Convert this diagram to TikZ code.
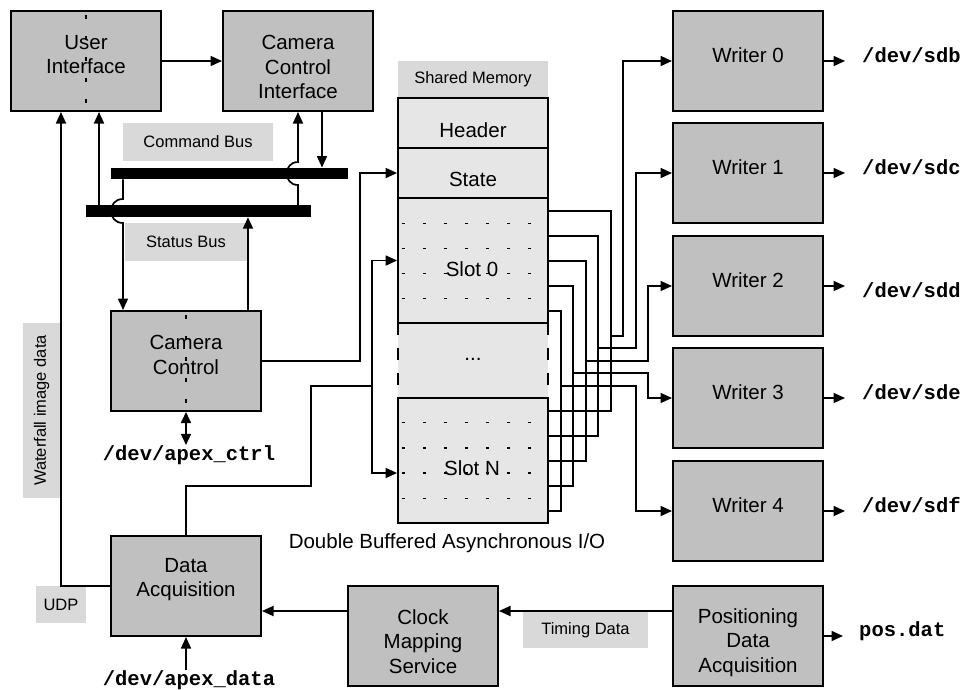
\documentclass[tikz,border=0pt]{standalone}
\usepackage{fontspec}
\setmainfont{Liberation Sans}
\setmonofont{Liberation Mono}
\usetikzlibrary{arrows.meta,calc}
\definecolor{boxgray}{RGB}{192,192,192}
\definecolor{taggray}{RGB}{217,217,217}
\definecolor{memgray}{RGB}{230,230,230}
\newcommand\mainfs{\fontsize{20.5}{24.5}\selectfont}
\newcommand\tagfs{\fontsize{16.5}{19}\selectfont}
\newcommand\monofs{\fontsize{20.5}{24.5}\selectfont\ttfamily\bfseries}
\begin{document}
\begin{tikzpicture}[x=1pt,y=-1pt,
 blk/.style={draw, line width=2pt, fill=boxgray, minimum width=150pt, minimum height=100pt, inner sep=0pt},
 mem/.style={draw, line width=1.8pt, fill=memgray, minimum width=150pt, inner sep=0pt},
 tag/.style={fill=taggray, inner sep=0pt, font=\tagfs},
 txt/.style={inner sep=0pt, align=center, font=\mainfs, anchor=north},
 dev/.style={inner xsep=17pt, inner ysep=0pt, font=\monofs, anchor=base west},
 bus/.style={fill=black, inner sep=0pt},
 wire/.style={line width=1.7pt},
 arr/.style={line width=1.7pt, -{Triangle[length=11.5pt,width=10pt]}},
 dbl/.style={line width=1.7pt, {Triangle[length=11pt,width=10pt]}-{Triangle[length=11pt,width=10pt]}},
 dotrow/.style={line width=1.6pt, dash pattern=on 3.5pt off 17.5pt},
 ]
\useasboundingbox (0,0) rectangle (963,689);

% main blocks
\node[blk] (ui) at (86,61) {};
\node[blk] (cci) at (298,61) {};
\node[blk] (cc) at (186,361) {};
\node[blk] (da) at (186,586) {};
\node[blk] (cms) at (423,636) {};
\node[blk] (pda) at (748,636) {};
\foreach \i/\yy in {0/61,1/173,2/286,3/398,4/511}{
  \node[blk] (w\i) at (748,\yy) {};
  \node[txt] (wt\i) at (748,\yy-14) {Writer \i};
}

% dashed centre marks
\draw[line width=1.6pt, dash pattern=on 4pt off 17pt] (86,15) -- (86,107);
\draw[line width=1.6pt, dash pattern=on 4pt off 17pt] (186,315) -- (186,407);

\node[txt] (uit) at (86,35) {User\\Interface};
\node[txt] (ccit) at (298,35) {Camera\\Control\\Interface};
\node[txt] (cct) at (186,335) {Camera\\Control};
\node[txt] (dat) at (186,558) {Data\\Acquisition};
\node[txt] (cmst) at (423,609) {Clock\\Mapping\\Service};
\node[txt] (pdat) at (748,608) {Positioning\\Data\\Acquisition};

% buses
\node[bus, minimum width=237pt, minimum height=11.5pt] (cmdbus) at (229.5,173.5) {};
\node[bus, minimum width=225pt, minimum height=12pt] (stbus) at (198.5,211) {};

% tags
\node[tag, minimum width=150pt, minimum height=38pt] (cmdlbl) at (198,142) {Command Bus};
\node[tag, minimum width=122pt, minimum height=38pt] (stlbl) at (186,242) {Status Bus};
\node[tag, minimum width=150pt, minimum height=37pt] (shlbl) at (473,79.5) {Shared Memory};
\node[tag, minimum width=125pt, minimum height=36pt] (tdlbl) at (585.5,630) {Timing Data};
\node[tag, minimum width=50pt, minimum height=37pt] (udplbl) at (61,604.5) {UDP};
\node[tag, minimum width=175pt, minimum height=37pt, rotate=90] (wflbl) at (41.5,410.5) {Waterfall image data};

% shared memory
\node[fill=memgray, minimum width=150pt, minimum height=75pt, inner sep=0pt] (mid) at (473,360.5) {};
\draw[line width=1.8pt, dash pattern=on 12.5pt off 12.5pt] (mid.north west) -- (mid.south west);
\draw[line width=1.8pt, dash pattern=on 12.5pt off 12.5pt] (mid.north east) -- (mid.south east);
\node[mem, minimum height=50pt] (hdr) at (473,123) {};
\node[mem, minimum height=50pt] (state) at (473,173) {};
\node[mem, minimum height=125pt] (slot0) at (473,260.5) {};
\node[mem, minimum height=125pt] (slotN) at (473,460.5) {};
\foreach \yy in {223.3,248.3,273.3,298.3,422.3,447.7,472.7,498.3}
  \draw[dotrow] (401.6,\yy) -- (532,\yy);
\node[txt] (hdrt) at (473,122) {Header};
\node[txt] (statet) at (473,172) {State};
\node[txt] (s0t) at (472,261) {Slot 0};
\node[txt] (sNt) at (472,460) {Slot N};
\node[font=\mainfs, inner sep=0pt, anchor=base] (dots) at (473,360) {...};
\node[txt] (dbt) at (447,533) {Double Buffered Asynchronous I/O};

% device texts
\node[dev] (dev0) at (845,62.7) {/dev/sdb};
\node[dev] (dev1) at (845,174) {/dev/sdc};
\node[dev] (dev2) at (845,297.7) {/dev/sdd};
\node[dev] (dev3) at (845,399) {/dev/sde};
\node[dev] (dev4) at (845,512.7) {/dev/sdf};
\node[dev, inner xsep=16pt] (posd) at (843,636.7) {pos.dat};
\node[font=\monofs, inner sep=0pt, anchor=base] (apexctrl) at (189,460) {/dev/apex\_ctrl};
\node[font=\monofs, inner sep=0pt, anchor=base] (apexdata) at (189,685) {/dev/apex\_data};

% connectors top-left
\draw[arr] (ui.east) -- (cci.west);
\draw[arr] (322,0 |- cci.south) -- (322,0 |- cmdbus.north);
\draw[arr] (298,0 |- stbus.north) -- (298,185) .. controls (283,185) and (283,162) .. (298,162) -- (298,0 |- cci.south);
\draw[arr] (123,0 |- cmdbus.south) -- (123,199) .. controls (107,199) and (107,223) .. (123,223) -- (123,0 |- cc.north);
\draw[arr] (99,0 |- stbus.north) -- (99,0 |- ui.south);
\draw[arr] (248,0 |- cc.north) -- (248,0 |- stbus.south);
\draw[arr] (da.west) -| (61,0 |- ui.south);
\draw[arr] (cc.east) -| (360,0 |- state.west) -- (state.west);

% data acquisition to slots
\coordinate (dj) at (372,386);
\draw[wire] (da.north) -- (186,486) -| (311,386) -- (dj);
\draw[arr] (dj) |- (slot0.west);
\draw[arr] (dj) |- ($(slotN.west)+(0,12.5)$);

% slots to writers
\foreach \i/\vx/\ya/\by/\rx in {0/611/211/336/623, 1/598/236/348/636, 2/586/261/361/648, 3/573/286/373/648, 4/561/311/386/636}{
  \draw[wire] (slot0.east |- 0,\ya) -| (\vx,\ya+200) -- (slotN.east |- 0,\ya+200);
  \coordinate (j\i) at (\vx,\by);
  \draw[arr] (j\i) -- (\rx,\by) |- (w\i.west);
}

% outputs
\foreach \i in {0,...,4}
  \draw[arr] (w\i.east) -- (w\i.east -| dev\i.west);
\draw[arr] (pda.east) -- (pda.east -| posd.west);

% bottom row
\draw[arr] (cms.west |- 0,611) -- (da.east |- 0,611);
\draw[arr] (pda.west |- 0,611) -- (cms.east |- 0,611);
\draw[dbl] (cc.south) -- (cc.south |- apexctrl.north);
\draw[arr] (da.south |- apexdata.north) -- (da.south);
\end{tikzpicture}
\end{document}
